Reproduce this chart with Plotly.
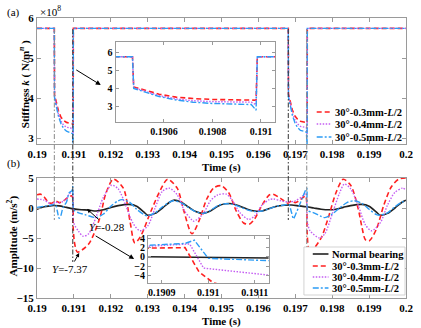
import plotly.graph_objects as go

FONT = "Liberation Serif"

# ---------------- Panel (a) data: stiffness (x1e8 N/m^n) ----------------
t_a = [0.19000, 0.19047, 0.190475, 0.19052, 0.19058, 0.19065, 0.19072, 0.19080, 0.19090, 0.19096, 0.19098, 0.190985,
       0.19681, 0.196815, 0.19686, 0.19692, 0.19699, 0.19706, 0.19714, 0.19724, 0.19730, 0.19732, 0.197325, 0.20000]
k_red = [5.74, 5.74, 4.08, 3.92, 3.68, 3.52, 3.44, 3.39, 3.36, 3.35, 3.35, 5.74,
         5.74, 4.10, 3.93, 3.70, 3.55, 3.47, 3.42, 3.39, 3.38, 3.38, 5.74, 5.74]
k_vio = [5.74, 5.74, 4.04, 3.86, 3.60, 3.42, 3.32, 3.27, 3.25, 3.24, 3.10, 5.74,
         5.74, 4.06, 3.88, 3.62, 3.45, 3.35, 3.29, 3.27, 3.26, 3.10, 5.74, 5.74]
k_blu = [5.74, 5.74, 4.00, 3.82, 3.55, 3.36, 3.24, 3.17, 3.13, 3.11, 2.80, 5.74,
         5.74, 4.02, 3.84, 3.57, 3.38, 3.26, 3.19, 3.16, 3.15, 2.80, 5.74, 5.74]

# ---------------- Panel (b) data: amplitude (m/s^2) ----------------
t_blk = [0.1900, 0.1902, 0.1904, 0.1906, 0.1908, 0.1910, 0.1912, 0.1914, 0.1916, 0.1918, 0.1920, 0.1922,
         0.1925, 0.1927, 0.1929, 0.1930, 0.1932, 0.1934, 0.1936, 0.1937, 0.1939, 0.1941, 0.1943, 0.1945,
         0.1947, 0.1949, 0.1951, 0.1953, 0.1955, 0.1957, 0.1959, 0.1961, 0.1963, 0.1965, 0.1967, 0.1969,
         0.1971, 0.1973, 0.1975, 0.1977, 0.1979, 0.1981, 0.1983, 0.1985, 0.1988, 0.1990, 0.1992, 0.1993,
         0.1995, 0.1997, 0.1999, 0.2000]
a_blk = [-0.2, 0.2, 0.4, 0.35, 0.1, -0.15, -0.28, -0.35, -0.5, -0.3, 0.1, 0.4,
         0.6, 0.3, -0.7, -1.2, -0.9, 0.0, 1.0, 1.3, 1.0, 0.2, -0.6, -0.9,
         -0.5, 0.3, 0.7, 0.7, 0.3, -0.2, -0.5, -0.5, -0.1, 0.3, 0.45, 0.5,
         0.35, 0.2, 0.0, -0.2, -0.3, -0.2, 0.1, 0.4, 0.6, 0.3, -0.7, -1.2,
         -0.9, 0.0, 1.0, 1.3]

t_red = [0.1900, 0.1901, 0.1902, 0.1903, 0.1904, 0.1905, 0.1906, 0.1907, 0.1908, 0.19087, 0.19095, 0.19098,
         0.19101, 0.19106, 0.1911, 0.1914, 0.1917, 0.19186, 0.19207, 0.19234, 0.19252, 0.19265, 0.1928, 0.19309,
         0.19336, 0.19354, 0.1938, 0.19398, 0.1942, 0.1944, 0.1946, 0.1948, 0.1950, 0.1952, 0.1954, 0.1956,
         0.19575, 0.1959, 0.1961, 0.1963, 0.1964, 0.1966, 0.1968, 0.1969, 0.1970, 0.1971, 0.1972, 0.19728,
         0.19732, 0.19735, 0.19740, 0.1975, 0.1977, 0.1979, 0.1981, 0.1983, 0.1985, 0.1987, 0.1988, 0.1989,
         0.1990, 0.1992, 0.1994, 0.1996, 0.1998, 0.2000]
a_red = [2.2, 2.3, 1.8, 1.0, 0.8, 1.2, 0.9, 1.1, 1.6, 1.9, 2.0, -3.2,
         -5.5, -7.0, -7.37, -6.0, -1.7, 2.3, 4.8, 3.3, -2.2, -5.8, -4.8, -0.5,
         3.2, 4.8, 3.3, -0.5, -4.3, -2.0, 1.5, 3.4, 3.7, 2.5, -0.5, -2.5,
         -2.7, -1.8, 0.5, 2.2, 2.3, 1.6, 0.8, 1.2, 0.9, 1.2, 1.7, 2.0,
         -4.0, -6.5, -7.5, -6.8, -5.0, -1.5, 2.5, 4.8, 3.8, 0.0, -3.0, -5.3,
         -5.5, -3.5, 0.5, 3.5, 4.8, 5.0]

t_vio = [0.1900, 0.1902, 0.1903, 0.1904, 0.1905, 0.1906, 0.1907, 0.1908, 0.19087, 0.19096, 0.19099, 0.19113,
         0.19125, 0.1914, 0.1916, 0.1918, 0.19202, 0.1922, 0.1924, 0.1926, 0.19279, 0.1930, 0.1932, 0.1934,
         0.19359, 0.1938, 0.1940, 0.1942, 0.19425, 0.1945, 0.1947, 0.1949, 0.19513, 0.1953, 0.1955, 0.19574,
         0.1959, 0.1961, 0.1963, 0.19641, 0.1966, 0.1968, 0.1970, 0.1972, 0.19728, 0.19733, 0.1974, 0.19766,
         0.1978, 0.1980, 0.1982, 0.19833, 0.1985, 0.1987, 0.1989, 0.19907, 0.1993, 0.1995, 0.1997, 0.1999, 0.2000]
a_vio = [1.5, 1.3, 0.9, 0.6, 1.0, 0.8, 1.1, 1.6, 2.3, 2.8, -2.4, -3.9,
         -4.7, -4.3, -1.5, 1.8, 3.8, 3.2, 0.5, -2.5, -3.8, -3.0, 0.0, 2.8,
         3.3, 2.2, -0.5, -2.0, -2.2, -1.0, 1.2, 2.2, 2.3, 1.2, -0.8, -1.9,
         -1.3, 0.5, 1.4, 1.5, 1.2, 1.0, 1.2, 2.0, 2.5, -2.4, -3.8, -5.0,
         -4.3, -1.0, 2.5, 4.0, 3.2, 0.5, -2.8, -3.8, -2.5, 0.5, 2.6, 3.3, 3.0]

t_blu = [0.1900, 0.1902, 0.1904, 0.1905, 0.19055, 0.1906, 0.19065, 0.1907, 0.1908, 0.19087, 0.19095, 0.19097,
         0.19100, 0.19113, 0.1913, 0.1915, 0.1916, 0.1918, 0.1920, 0.1922, 0.1923, 0.1925, 0.1927, 0.1929,
         0.1930, 0.1932, 0.1934, 0.1936, 0.1937, 0.1939, 0.1941, 0.1943, 0.1945, 0.1947, 0.1949, 0.1951,
         0.1953, 0.1955, 0.1957, 0.1959, 0.1961, 0.1963, 0.1965, 0.1967, 0.19682, 0.1969, 0.19695, 0.1970,
         0.1971, 0.1972, 0.19731, 0.19734, 0.1975, 0.1977, 0.1978, 0.1980, 0.1982, 0.1984, 0.1986, 0.1988,
         0.1990, 0.1992, 0.1993, 0.1995, 0.1997, 0.1999, 0.2000]
a_blu = [0.1, 0.3, 0.5, 0.6, -0.5, -1.7, -1.2, 0.0, 1.0, 2.5, 2.9, 3.6,
         -0.3, -0.8, -1.1, -1.5, -1.6, -1.0, 0.3, 1.2, 1.4, 1.0, -0.2, -1.1,
         -1.3, -0.8, 0.2, 1.0, 1.2, 0.9, 0.1, -0.6, -0.9, -0.4, 0.4, 0.7,
         0.6, 0.2, -0.3, -0.6, -0.5, -0.1, 0.3, 0.5, 0.6, -0.8, -1.8, -1.2,
         0.3, 1.8, 3.3, -0.4, -0.8, -1.4, -1.6, -1.0, 0.0, 0.9, 1.2, 0.8,
         -0.2, -1.1, -1.2, -0.8, 0.2, 1.0, 1.2]

x_ticks = [0.190, 0.191, 0.192, 0.193, 0.194, 0.195, 0.196, 0.197, 0.198, 0.199, 0.200]
x_ticktext = ["0.19", "0.191", "0.192", "0.193", "0.194", "0.195", "0.196", "0.197", "0.198", "0.199", "0.2"]
ya_ticks = [3, 4, 5, 6]
yb_ticks = [-15, -10, -5, 0, 5]
inset_a_xticks = [0.1906, 0.1908, 0.1910]
inset_a_xtext = ["0.1906", "0.1908", "0.191"]
inset_a_yticks = [3, 4, 5, 6]
inset_b_xticks = [0.1909, 0.1910, 0.1911]
inset_b_xtext = ["0.1909", "0.191", "0.1911"]
inset_b_yticks = [-4, -2, 0, 2, 4]

names = ["Normal bearing", "30°-0.3mm-<i>L</i>/2", "30°-0.4mm-<i>L</i>/2", "30°-0.5mm-<i>L</i>/2"]

# ---------------- styles ----------------
RED = "#ff2020"
VIO = "#c45cf2"
BLU = "#2c9cf5"
BLK = "#222222"
st_red = dict(color=RED, width=1.6, dash="5px,3px")
st_vio = dict(color=VIO, width=1.4, dash="1.5px,1.5px")
st_blu = dict(color=BLU, width=1.4, dash="6px,2px,2px,2px")
st_blk = dict(color=BLK, width=1.6)

W, H = 421, 328
ML, MR, MT, MB = 37, 8, 18, 30
PW, PH = W - ML - MR, H - MT - MB


def px(xp):
    return (xp - ML) / PW


def py(yp):
    return (H - MB - yp) / PH


fig = go.Figure()

# panel (a) main
for y, st in ((k_red, st_red), (k_vio, st_vio), (k_blu, st_blu)):
    fig.add_trace(go.Scatter(x=t_a, y=y, mode="lines", line=st, xaxis="x", yaxis="y", showlegend=False))
# panel (a) inset
for y, st in ((k_red, st_red), (k_vio, st_vio), (k_blu, st_blu)):
    fig.add_trace(go.Scatter(x=t_a, y=y, mode="lines", line=st, xaxis="x3", yaxis="y3", showlegend=False))
# panel (b) main
for (tx, y, st) in ((t_blk, a_blk, st_blk), (t_red, a_red, st_red), (t_vio, a_vio, st_vio), (t_blu, a_blu, st_blu)):
    fig.add_trace(go.Scatter(x=tx, y=y, mode="lines", line=dict(st, shape="spline", smoothing=0.8),
                             xaxis="x2", yaxis="y2", showlegend=False))
# panel (b) inset
for (tx, y, st) in ((t_blk, a_blk, st_blk), (t_red, a_red, st_red), (t_vio, a_vio, st_vio), (t_blu, a_blu, st_blu)):
    fig.add_trace(go.Scatter(x=tx, y=y, mode="lines", line=st, xaxis="x4", yaxis="y4", showlegend=False))

tickfont = dict(family=FONT, size=11, color="black", weight="bold")
tickfont_s = dict(family=FONT, size=10, color="black", weight="bold")
frame = dict(showline=True, linecolor="#9a9a9a", linewidth=1, mirror="ticks", ticks="inside",
             ticklen=4, tickcolor="#9a9a9a", showgrid=False, zeroline=False)

fig.update_layout(
    width=W, height=H, margin=dict(l=ML, r=MR, t=MT, b=MB),
    paper_bgcolor="white", plot_bgcolor="white",
    xaxis=dict(frame, domain=[0, 1], anchor="y", range=[0.19, 0.2], tickvals=x_ticks, ticktext=x_ticktext,
               tickfont=tickfont),
    yaxis=dict(frame, domain=[py(144), 1], anchor="x", range=[2.85, 6.0], tickvals=ya_ticks,
               tickfont=tickfont),
    xaxis2=dict(frame, domain=[0, 1], anchor="y2", range=[0.19, 0.2], tickvals=x_ticks, ticktext=x_ticktext,
                tickfont=tickfont),
    yaxis2=dict(frame, domain=[0, py(178)], anchor="x2", range=[-15, 5], tickvals=yb_ticks,
                tickfont=tickfont),
    xaxis3=dict(frame, domain=[px(117), px(280)], anchor="y3", range=[0.1904, 0.19106],
                tickvals=inset_a_xticks, ticktext=inset_a_xtext, tickfont=tickfont_s, ticklen=3),
    yaxis3=dict(frame, domain=[py(122), py(42)], anchor="x3", range=[2.15, 6.55], tickvals=inset_a_yticks,
                tickfont=tickfont_s, ticklen=3),
    xaxis4=dict(frame, domain=[px(150), px(273)], anchor="y4", range=[0.19087, 0.19113],
                tickvals=inset_b_xticks, ticktext=inset_b_xtext, tickfont=tickfont_s, ticklen=3),
    yaxis4=dict(frame, domain=[py(283), py(236)], anchor="x4", range=[-5.6, 4.5], tickvals=inset_b_yticks,
                tickfont=tickfont_s, ticklen=3),
)

shapes = []
# vertical marker lines crossing both panels
for t, y0, y1, c in ((0.19047, 29, 220, "#8a8a8a"), (0.19097, 29, 262, "#333333"),
                     (0.19681, 29, 220, "#333333"), (0.19731, 29, 252, "#8a8a8a")):
    shapes.append(dict(type="line", xref="x", yref="paper", x0=t, x1=t, y0=py(y0), y1=py(y1),
                       line=dict(color=c, width=1, dash="5px,2px,1.5px,2px"), layer="above"))

# legend (b) box
shapes.append(dict(type="rect", xref="paper", yref="paper", x0=px(309), x1=px(412), y0=py(295), y1=py(247),
                   fillcolor="white", line=dict(color="#c8c8c8", width=0.8), layer="above"))

annotations = []


def legend_entry(yp, xs0, xs1, xt, st, text):
    shapes.append(dict(type="line", xref="paper", yref="paper", x0=px(xs0), x1=px(xs1), y0=py(yp), y1=py(yp),
                       line=dict(color=st["color"], width=st["width"], dash=st.get("dash", "solid")),
                       layer="above"))
    annotations.append(dict(xref="paper", yref="paper", x=px(xt), y=py(yp), xanchor="left", yanchor="middle",
                            text="<b>" + text + "</b>", showarrow=False,
                            font=dict(family=FONT, size=10.5, color="black")))


for yp, st, nm in ((112, st_red, names[1]), (124, st_vio, names[2]), (137, st_blu, names[3])):
    legend_entry(yp, 322, 337, 339, st, nm)
for yp, st, nm in ((254, st_blk, names[0]), (266, st_red, names[1]), (277, st_vio, names[2]), (288, st_blu, names[3])):
    legend_entry(yp, 318, 334, 336, st, nm)

lbl = dict(family=FONT, size=11, color="black")
annotations += [
    dict(xref="paper", yref="paper", x=px(4), y=py(12), xanchor="left", yanchor="middle", text="(a)",
         showarrow=False, font=lbl),
    dict(xref="paper", yref="paper", x=px(4), y=py(164), xanchor="left", yanchor="middle", text="(b)",
         showarrow=False, font=lbl),
    dict(xref="paper", yref="paper", x=px(38), y=py(11), xanchor="left", yanchor="middle",
         text="×10<sup>8</sup>", showarrow=False, font=lbl),
    dict(xref="paper", yref="paper", x=px(225), y=py(167), xanchor="center", yanchor="middle",
         text="<b>Time (s)</b>", showarrow=False, font=lbl),
    dict(xref="paper", yref="paper", x=px(225), y=py(321), xanchor="center", yanchor="middle",
         text="<b>Time (s)</b>", showarrow=False, font=lbl),
    dict(xref="paper", yref="paper", x=px(24), y=py(84), xanchor="center", yanchor="middle", textangle=-90,
         text="<b>Stiffness <i>k</i> ( N/m<sup><i>n</i></sup> )</b>", showarrow=False, font=lbl),
    dict(xref="paper", yref="paper", x=px(12), y=py(236), xanchor="center", yanchor="middle", textangle=-90,
         text="<b>Amplitude (m/s<sup>2</sup>)</b>", showarrow=False, font=lbl),
    # arrows to insets
    dict(xref="paper", yref="paper", x=px(102), y=py(85), ax=-26, ay=-16, text="", showarrow=True,
         arrowhead=2, arrowsize=1, arrowwidth=1, arrowcolor="black"),
    dict(xref="paper", yref="paper", x=px(136), y=py(259), ax=-40, ay=-24, text="", showarrow=True,
         arrowhead=2, arrowsize=1, arrowwidth=1, arrowcolor="black"),
    # value callouts
    dict(xref="paper", yref="paper", x=px(88), y=py(209), ax=20, ay=18, text="<i>Y</i>=-0.28",
         showarrow=True, arrowhead=2, arrowsize=0.8, arrowwidth=1, arrowcolor="black",
         font=dict(family=FONT, size=11, color="black")),
    dict(xref="paper", yref="paper", x=px(80), y=py(253), ax=-9, ay=16, text="<i>Y</i>=-7.37",
         showarrow=True, arrowhead=2, arrowsize=0.8, arrowwidth=1, arrowcolor="black",
         font=dict(family=FONT, size=11, color="black")),
]

fig.update_layout(shapes=shapes, annotations=annotations)
fig.write_html("out.html")
